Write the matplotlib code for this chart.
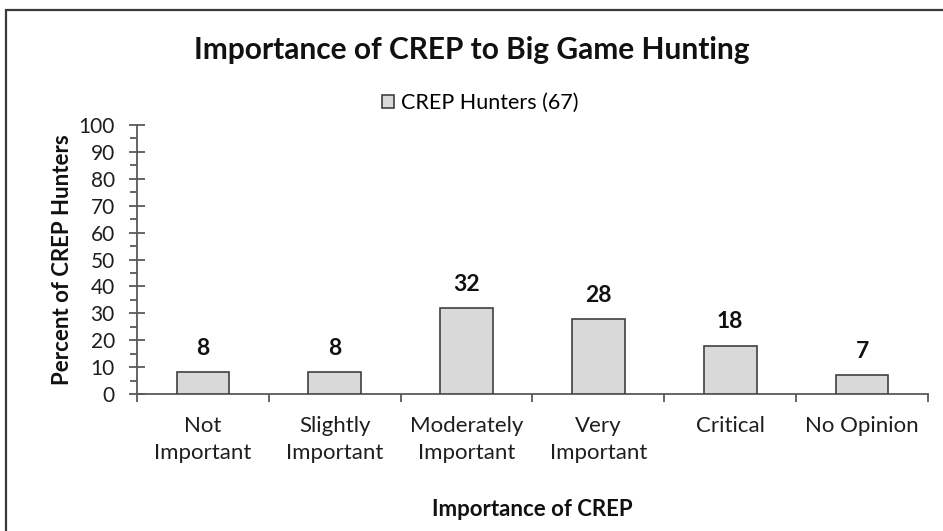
import matplotlib.pyplot as plt
from matplotlib.patches import Rectangle
from matplotlib.ticker import MultipleLocator, FixedLocator

plt.rcParams['font.family'] = ['Lato', 'DejaVu Sans']

categories = ['Not\nImportant', 'Slightly\nImportant', 'Moderately\nImportant',
              'Very\nImportant', 'Critical', 'No Opinion']
percent = [8, 8, 32, 28, 18, 7]
series_name = 'CREP Hunters (67)'

fig = plt.figure(figsize=(9.43, 5.31), dpi=100)
ax = fig.add_axes([137 / 943, 1 - 394 / 531, (928 - 137) / 943, (394 - 125) / 531])

# outer chart frame
fig.patches.append(Rectangle((6 / 943, -0.05), 1.1, 1 - 10 / 531 + 0.05,
                             transform=fig.transFigure, fill=False,
                             edgecolor='#3a3a3a', linewidth=1.6))

x = range(len(categories))
bars = ax.bar(x, percent, width=0.4, color='#d9d9d9', edgecolor='#404040',
              linewidth=1.2, label=series_name, zorder=3)

for xi, v in zip(x, percent):
    ax.annotate(str(v), (xi, v), xytext=(0, 17), textcoords='offset points',
                ha='center', va='center', fontsize=16.5, fontweight='bold',
                color='#111111')

ax.set_xlim(-0.5, len(categories) - 0.5)
ax.set_ylim(0, 100)
ax.yaxis.set_major_locator(MultipleLocator(10))
ax.yaxis.set_minor_locator(MultipleLocator(5))
ax.set_xticks(list(x))
ax.set_xticklabels(categories, fontsize=16, color='#1e1e1e', linespacing=1.4)
ax.xaxis.set_minor_locator(FixedLocator([i - 0.5 for i in range(len(categories) + 1)]))
ax.tick_params(axis='x', which='major', length=0, pad=16)
ax.tick_params(axis='x', which='minor', length=6, width=1.3, color='#595959', direction='out')
ax.tick_params(axis='y', which='major', length=12, width=1.3, color='#595959',
               direction='inout', labelsize=15, labelcolor='#1e1e1e', pad=10)
ax.tick_params(axis='y', which='minor', length=5, width=1.3, color='#595959', direction='out')

for s in ['top', 'right']:
    ax.spines[s].set_visible(False)
for s in ['left', 'bottom']:
    ax.spines[s].set_color('#595959')
    ax.spines[s].set_linewidth(1.3)

ax.set_xlabel('Importance of CREP', fontsize=16, fontweight='bold', color='#111111', labelpad=26)
ax.set_ylabel('Percent of CREP Hunters', fontsize=16, fontweight='bold', color='#111111', labelpad=4)

fig.text(472 / 943, 1 - 50 / 531, 'Importance of CREP to Big Game Hunting',
         ha='center', va='center', fontsize=21.5, fontweight='bold', color='#111111')

fig.legend(handles=[bars], labels=[series_name], loc='center',
           bbox_to_anchor=(480 / 943, 1 - 103 / 531), frameon=False, fontsize=15.5,
           handlelength=0.6, handleheight=0.6, handletextpad=0.3)

fig.savefig('out.png', dpi=100)
